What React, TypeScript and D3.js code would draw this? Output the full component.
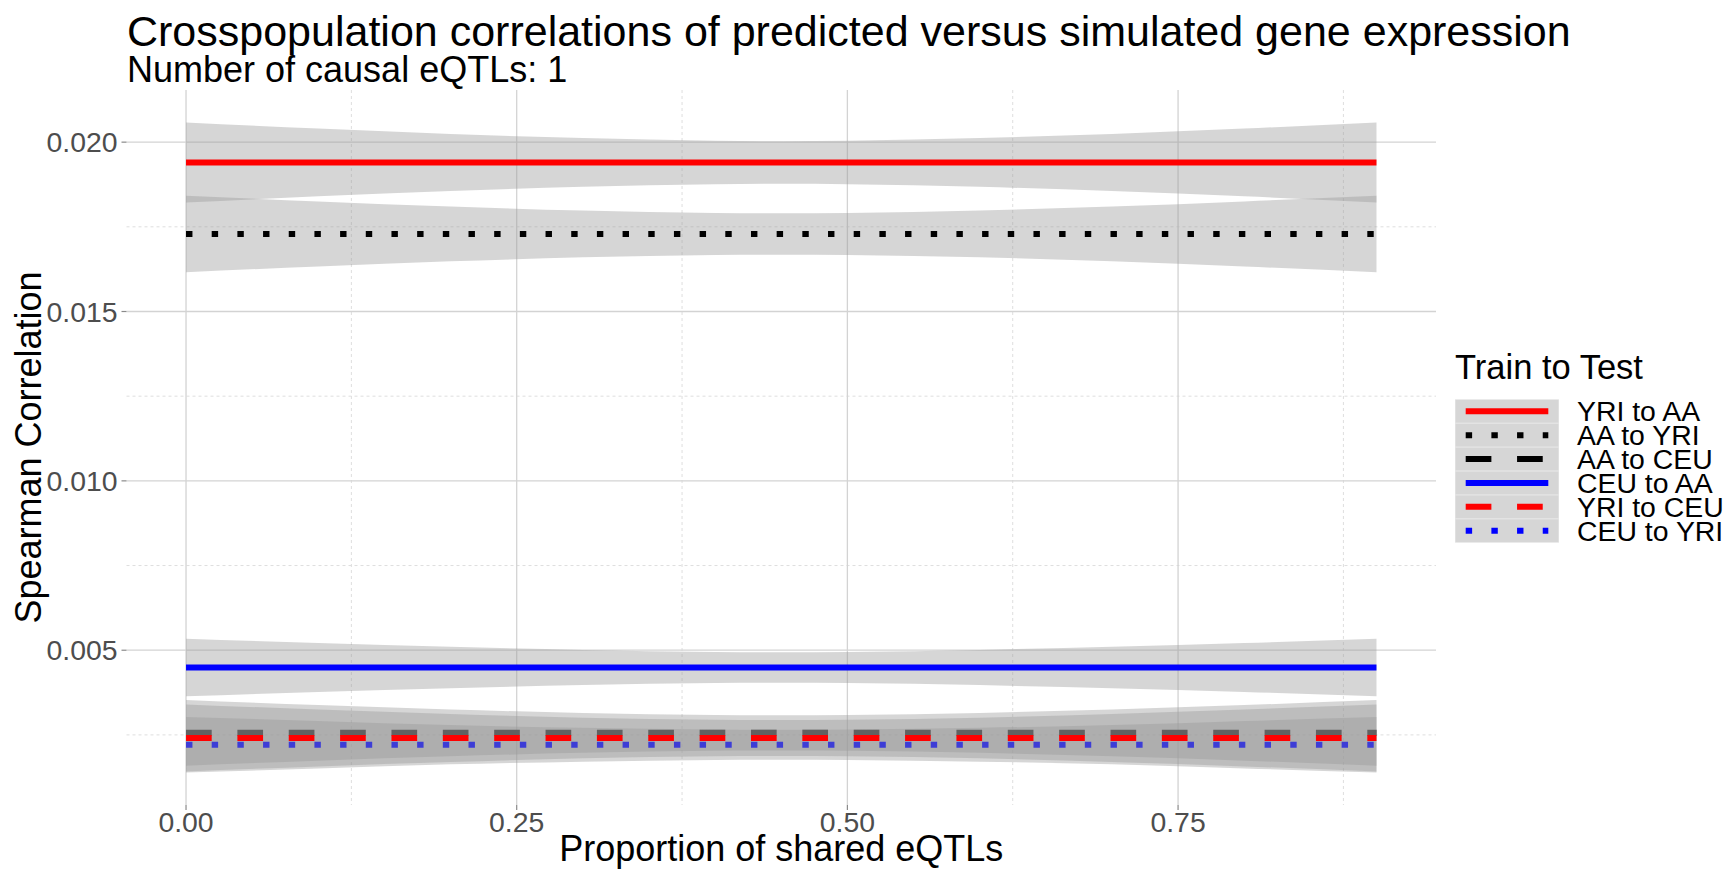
import React from 'react';
import * as d3 from 'd3';

// ---------- data ----------
const xValues = [0, 0.1, 0.2, 0.3, 0.4, 0.5, 0.6, 0.7, 0.8, 0.9];

const seriesNames = ['YRI to AA', 'AA to YRI', 'AA to CEU', 'CEU to AA', 'YRI to CEU', 'CEU to YRI'];
const seriesColors = ['#ff0000', '#000000', '#000000', '#0000ff', '#ff0000', '#0000ff'];
const seriesLinetypes = ['solid', 'dotted', 'dashed', 'solid', 'dashed', 'dotted'];
const seriesFit = [0.0194, 0.01729, 0.00256, 0.00449, 0.00241, 0.00221];

const lowerYRItoAA = [0.01822, 0.0184, 0.01856, 0.01868, 0.01876, 0.01876, 0.01868, 0.01856, 0.0184, 0.01822];
const upperYRItoAA = [0.02058, 0.0204, 0.02024, 0.02012, 0.02004, 0.02004, 0.02012, 0.02024, 0.0204, 0.02058];
const lowerAAtoYRI = [0.01616, 0.01633, 0.01648, 0.0166, 0.01667, 0.01667, 0.0166, 0.01648, 0.01633, 0.01616];
const upperAAtoYRI = [0.01842, 0.01825, 0.0181, 0.01798, 0.01791, 0.01791, 0.01798, 0.0181, 0.01825, 0.01842];
const lowerAAtoCEU = [0.00159, 0.00174, 0.00187, 0.00197, 0.00203, 0.00203, 0.00197, 0.00187, 0.00174, 0.00159];
const upperAAtoCEU = [0.00353, 0.00338, 0.00325, 0.00315, 0.00309, 0.00309, 0.00315, 0.00325, 0.00338, 0.00353];
const lowerCEUtoAA = [0.00364, 0.00377, 0.00388, 0.00397, 0.00403, 0.00403, 0.00397, 0.00388, 0.00377, 0.00364];
const upperCEUtoAA = [0.00534, 0.00521, 0.0051, 0.00501, 0.00495, 0.00495, 0.00501, 0.0051, 0.00521, 0.00534];
const lowerYRItoCEU = [0.00142, 0.00157, 0.0017, 0.00181, 0.00187, 0.00187, 0.00181, 0.0017, 0.00157, 0.00142];
const upperYRItoCEU = [0.0034, 0.00325, 0.00312, 0.00301, 0.00295, 0.00295, 0.00301, 0.00312, 0.00325, 0.0034];
const lowerCEUtoYRI = [0.00139, 0.00151, 0.00163, 0.00171, 0.00176, 0.00176, 0.00171, 0.00163, 0.00151, 0.00139];
const upperCEUtoYRI = [0.00303, 0.00291, 0.00279, 0.00271, 0.00266, 0.00266, 0.00271, 0.00279, 0.00291, 0.00303];

const seriesLower = [lowerYRItoAA, lowerAAtoYRI, lowerAAtoCEU, lowerCEUtoAA, lowerYRItoCEU, lowerCEUtoYRI];
const seriesUpper = [upperYRItoAA, upperAAtoYRI, upperAAtoCEU, upperCEUtoAA, upperYRItoCEU, upperCEUtoYRI];

// drawing order of the smooth groups (ribbon then line each)
const drawOrder = ['YRI to AA', 'AA to YRI', 'CEU to AA', 'AA to CEU', 'CEU to YRI', 'YRI to CEU'];

const xTicks = [0, 0.25, 0.5, 0.75];
const xTickLabels = ['0.00', '0.25', '0.50', '0.75'];
const xMinor = [0.125, 0.375, 0.625, 0.875];
const yTicks = [0.005, 0.01, 0.015, 0.02];
const yTickLabels = ['0.005', '0.010', '0.015', '0.020'];
const yMinor = [0.0025, 0.0075, 0.0125, 0.0175];

const titleText = 'Crosspopulation correlations of predicted versus simulated gene expression';
const subtitleText = 'Number of causal eQTLs: 1';
const xTitle = 'Proportion of shared eQTLs';
const yTitle = 'Spearman Correlation';
const legendTitle = 'Train to Test';

// ---------- layout ----------
const W = 1728;
const H = 870;
const panel = { left: 126.5, right: 1436, top: 90, bottom: 805 };
const FONT = '"Liberation Sans", Arial, Helvetica, sans-serif';
const LW = 6;
const U = 6.42;
const dashFor = (lt: string) =>
  lt === 'dotted' ? `${U} ${3 * U}` : lt === 'dashed' ? `${4 * U} ${4 * U}` : undefined;

export default function App() {
  const xExt = d3.extent(xValues) as [number, number];
  const xPad = (xExt[1] - xExt[0]) * 0.05;
  const x = d3.scaleLinear().domain([xExt[0] - xPad, xExt[1] + xPad]).range([panel.left, panel.right]);

  const yMin = d3.min(seriesLower.flat()) as number;
  const yMax = d3.max(seriesUpper.flat()) as number;
  const yPad = (yMax - yMin) * 0.05;
  const y = d3.scaleLinear().domain([yMin - yPad, yMax + yPad]).range([panel.bottom, panel.top]);

  const area = d3
    .area<number>()
    .x((_, i) => x(xValues[i]))
    .curve(d3.curveNatural);

  const line = d3
    .line<number>()
    .x((_, i) => x(xValues[i]))
    .y((d) => y(d));

  const gridMajor = '#d3d3d3';
  const gridMinor = '#dedede';

  const legendX = 1455;
  const legendKeyW = 104;
  const legendRowTop = 399.3;
  const legendRowH = 23.9;

  return (
    <svg
      width={W}
      height={H}
      style={{ position: 'absolute', left: 0, top: 0, background: '#fff' }}
      fontFamily={FONT}
    >
      <rect x={0} y={0} width={W} height={H} fill="#fff" />
      {/* minor grid */}
      {xMinor.map((v) => (
        <line key={'xm' + v} x1={x(v)} x2={x(v)} y1={panel.top} y2={panel.bottom}
          stroke={gridMinor} strokeWidth={1} strokeDasharray="3 3" />
      ))}
      {yMinor.map((v) => (
        <line key={'ym' + v} x1={panel.left} x2={panel.right} y1={y(v)} y2={y(v)}
          stroke={gridMinor} strokeWidth={1} strokeDasharray="3 3" />
      ))}
      {/* major grid */}
      {xTicks.map((v) => (
        <line key={'xg' + v} x1={x(v)} x2={x(v)} y1={panel.top} y2={panel.bottom}
          stroke={gridMajor} strokeWidth={1.3} />
      ))}
      {yTicks.map((v) => (
        <line key={'yg' + v} x1={panel.left} x2={panel.right} y1={y(v)} y2={y(v)}
          stroke={gridMajor} strokeWidth={1.3} />
      ))}

      {/* smooths */}
      {drawOrder.map((name) => {
        const i = seriesNames.indexOf(name);
        const lo = seriesLower[i];
        const up = seriesUpper[i];
        const a = area.y0((_, k) => y(lo[k])).y1((_, k) => y(up[k]))(xValues) as string;
        const fit = xValues.map(() => seriesFit[i]);
        return (
          <g key={name}>
            <path d={a} fill="#999999" fillOpacity={0.4} stroke="none" />
            <path d={line(fit) as string} fill="none" stroke={seriesColors[i]} strokeWidth={LW}
              strokeDasharray={dashFor(seriesLinetypes[i])} strokeLinecap="butt" />
          </g>
        );
      })}

      {/* axis ticks */}
      {xTicks.map((v) => (
        <line key={'xt' + v} x1={x(v)} x2={x(v)} y1={panel.bottom} y2={panel.bottom + 5}
          stroke="#8a8a8a" strokeWidth={1.2} />
      ))}
      {yTicks.map((v) => (
        <line key={'yt' + v} x1={panel.left - 5} x2={panel.left} y1={y(v)} y2={y(v)}
          stroke="#8a8a8a" strokeWidth={1.2} />
      ))}
      {xTicks.map((v, i) => (
        <text key={'xl' + v} x={x(v)} y={832} textAnchor="middle" fontSize={28.4} fill="#4d4d4d">
          {xTickLabels[i]}
        </text>
      ))}
      {yTicks.map((v, i) => (
        <text key={'yl' + v} x={117.5} y={y(v) + 10.2} textAnchor="end" fontSize={28.4} fill="#4d4d4d">
          {yTickLabels[i]}
        </text>
      ))}

      {/* titles */}
      <text x={127} y={46} fontSize={43} fill="#000">{titleText}</text>
      <text x={127} y={82} fontSize={36} fill="#000">{subtitleText}</text>
      <text x={(panel.left + panel.right) / 2} y={861} textAnchor="middle" fontSize={36} fill="#000">
        {xTitle}
      </text>
      <text
        transform={`translate(40.5, ${(panel.top + panel.bottom) / 2}) rotate(-90)`}
        textAnchor="middle" fontSize={36} fill="#000"
      >
        {yTitle}
      </text>

      {/* legend */}
      <text x={legendX} y={379} fontSize={34.5} fill="#000">{legendTitle}</text>
      <rect x={legendX} y={legendRowTop} width={legendKeyW} height={legendRowH * seriesNames.length}
        fill="#e6e6e6" />
      {seriesNames.map((name, i) => {
        const top = legendRowTop + i * legendRowH;
        const cy = top + legendRowH / 2;
        return (
          <g key={'lg' + name}>
            <rect x={legendX + 0.6} y={top + 0.6} width={legendKeyW - 1.2} height={legendRowH - 1.2}
              fill="#d6d6d6" />
            <line x1={legendX + 10.7} x2={legendX + 93.3} y1={cy} y2={cy} stroke={seriesColors[i]}
              strokeWidth={LW} strokeDasharray={dashFor(seriesLinetypes[i])} />
            <text x={1577} y={cy + 10.2} fontSize={28.4} fill="#000">{name}</text>
          </g>
        );
      })}
    </svg>
  );
}
